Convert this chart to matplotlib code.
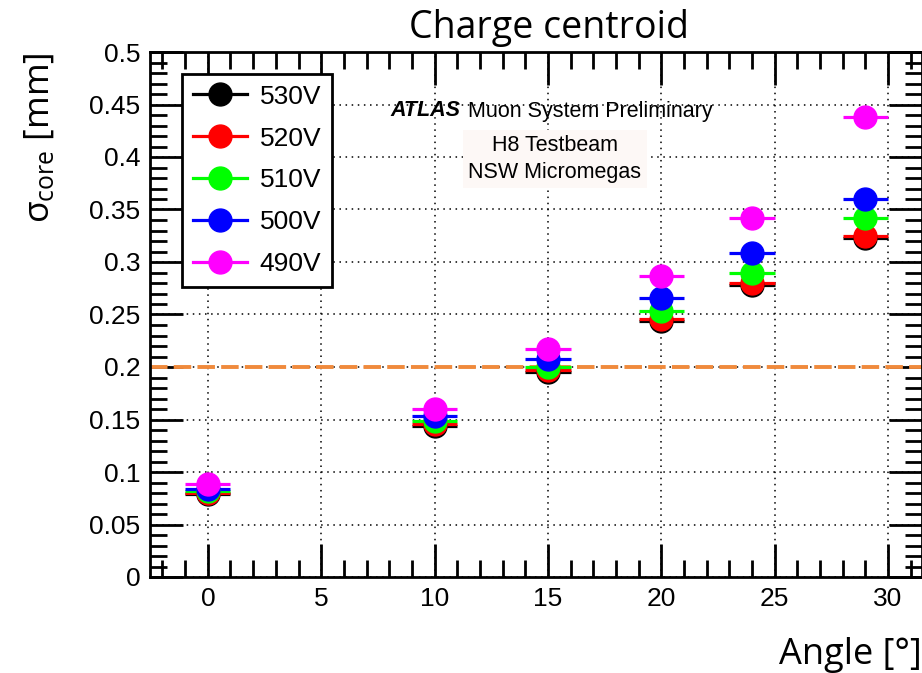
import matplotlib
matplotlib.use("Agg")
import matplotlib.pyplot as plt
from matplotlib.lines import Line2D
from matplotlib.ticker import MultipleLocator, FormatStrFormatter

# Beam incidence angles [deg]
angles = [0, 10, 15, 20, 24, 29]
angle_err = [1, 1, 1, 1, 1, 1]

# Core resolution [mm] per mesh HV setting
labels = ["530V", "520V", "510V", "500V", "490V"]
colors = ["#000000", "#ff0000", "#00ff00", "#0000ff", "#ff00ff"]
sigma_530 = [0.079, 0.144, 0.195, 0.244, 0.278, 0.323]
sigma_520 = [0.080, 0.146, 0.197, 0.246, 0.280, 0.325]
sigma_510 = [0.082, 0.149, 0.200, 0.253, 0.290, 0.342]
sigma_500 = [0.084, 0.153, 0.208, 0.266, 0.309, 0.360]
sigma_490 = [0.089, 0.160, 0.217, 0.287, 0.342, 0.438]
series = [sigma_530, sigma_520, sigma_510, sigma_500, sigma_490]

reference_level = 0.2

W, H = 922, 673
fig = plt.figure(figsize=(W / 100, H / 100), dpi=100)
ax = fig.add_axes([150 / W, 96 / H, 772 / W, 525 / H])

handles = []
for vals, col, lab in zip(series, colors, labels):
    ax.errorbar(angles, vals, xerr=angle_err, fmt="o", color=col,
                markersize=16.5, elinewidth=2.3, capsize=0, zorder=3)
    handles.append(Line2D([], [], color=col, lw=2.3, marker="o",
                          markersize=16.5, label=lab))

ax.axhline(reference_level, color="#f08a3c", lw=2.8, ls=(0, (4.5, 1.6)),
           zorder=2)

ax.set_xlim(-2.55, 31.5)
ax.set_ylim(0, 0.5)

ax.xaxis.set_major_locator(MultipleLocator(5))
ax.xaxis.set_minor_locator(MultipleLocator(1))
ax.yaxis.set_major_locator(MultipleLocator(0.05))
ax.yaxis.set_minor_locator(MultipleLocator(0.01))
ax.yaxis.set_major_formatter(FormatStrFormatter("%g"))

ax.grid(True, which="major", color="black", ls=(0, (1, 3)), lw=1.1,
        zorder=1)
ax.tick_params(which="both", direction="in", top=True, right=True,
               width=2, labelsize=19)
ax.tick_params(which="major", length=24, pad=7)
ax.tick_params(which="minor", length=12)
for lab in ax.get_xticklabels() + ax.get_yticklabels():
    lab.set_fontfamily("Liberation Sans")
for sp in ax.spines.values():
    sp.set_linewidth(2)

fig.text(549 / W, 1 - 28 / H, "Charge centroid", ha="center",
         va="center", fontsize=27, family="Open Sans")
fig.text(1.0, 1 - 655 / H, "Angle [°]", ha="right", va="center",
         fontsize=26, family="Open Sans")
fig.text(40 / W, 1 - 52 / H, r"$\mathregular{\sigma_{core}}$ [mm]",
         rotation=90, ha="center", va="top", fontsize=25.5,
         family="Open Sans")

leg = ax.legend(handles=handles, loc="upper left",
                bbox_to_anchor=(32 / 772, 1 - 22 / 525),
                prop={"family": "Liberation Sans", "size": 19},
                frameon=True, fancybox=False, edgecolor="black",
                framealpha=1, borderpad=0.4, borderaxespad=0,
                labelspacing=0.68, handlelength=2.05, handletextpad=0.5)
leg.get_frame().set_linewidth(2)
leg.set_zorder(5)

fig.text(390 / W, 1 - 111 / H, "ATLAS", ha="left", va="center",
         fontsize=15.5, family="Liberation Sans", fontweight="bold",
         style="italic")
fig.text(468 / W, 1 - 111 / H, "Muon System Preliminary",
         ha="left", va="center", fontsize=15.5, family="Liberation Sans")
fig.text(555 / W, 1 - 159 / H, "H8 Testbeam\nNSW Micromegas",
         ha="center", va="center", fontsize=15.5, family="Liberation Sans",
         linespacing=1.35,
         bbox=dict(facecolor="#fdf8f6", edgecolor="none", pad=4))

fig.savefig("out.png", dpi=100)
